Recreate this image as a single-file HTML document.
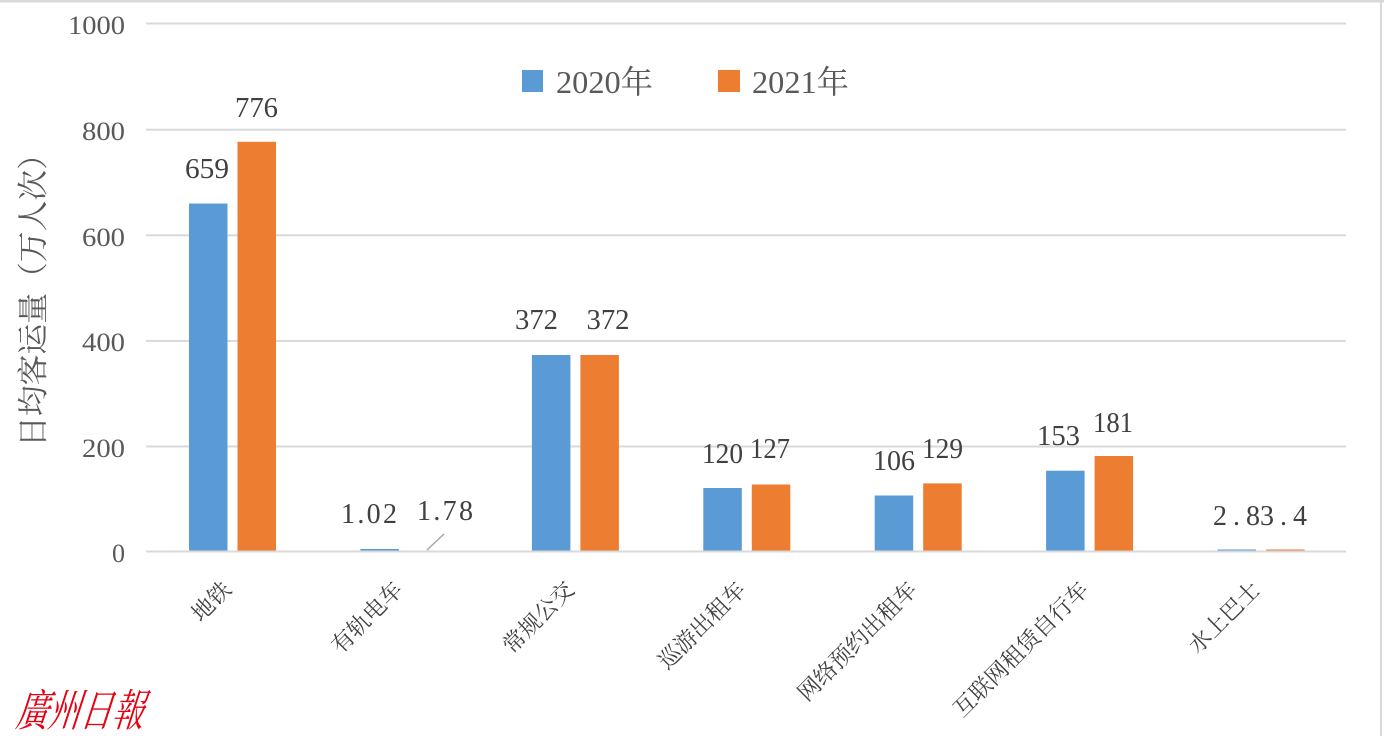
<!DOCTYPE html>
<html><head><meta charset="utf-8">
<style>
html,body{margin:0;padding:0;background:#fff;}
body{width:1384px;height:736px;overflow:hidden;}
svg{display:block;}
.tk{font-family:"Liberation Serif","Noto Serif CJK SC",serif;font-size:26px;fill:#595959;}
.dl{font-family:"Liberation Serif","Noto Serif CJK SC",serif;font-size:28px;fill:#404040;}
.cat{font-family:"Liberation Serif","Noto Serif CJK SC",serif;font-size:22.5px;fill:#404040;}
.lg{font-family:"Liberation Serif","Noto Serif CJK SC",serif;font-size:32px;fill:#595959;}
.yt{font-family:"Liberation Serif","Noto Serif CJK SC",serif;font-size:31px;fill:#595959;}
.logo{font-family:"Noto Serif CJK TC","Noto Serif CJK SC",serif;font-size:44px;fill:#e60012;}
</style></head>
<body>
<svg width="1384" height="736" viewBox="0 0 1384 736" xmlns="http://www.w3.org/2000/svg">
<rect x="0" y="0" width="1384" height="736" fill="#fff"/>
<rect x="0" y="0" width="1384" height="2.5" fill="#d9d9d9"/>
<rect x="1380" y="0" width="2" height="736" fill="#d9d9d9"/>

<g fill="#d9d9d9">
<rect x="146" y="22.5" width="1200" height="2"/>
<rect x="146" y="128.7" width="1200" height="2"/>
<rect x="146" y="234.3" width="1200" height="2"/>
<rect x="146" y="339.9" width="1200" height="2"/>
<rect x="146" y="445.5" width="1200" height="2"/>
</g>

<g class="tk" text-anchor="end">
<text x="125" y="34" textLength="57" lengthAdjust="spacingAndGlyphs">1000</text>
<text x="125" y="140" textLength="43" lengthAdjust="spacingAndGlyphs">800</text>
<text x="125" y="246" textLength="43" lengthAdjust="spacingAndGlyphs">600</text>
<text x="125" y="351" textLength="43" lengthAdjust="spacingAndGlyphs">400</text>
<text x="125" y="457" textLength="43" lengthAdjust="spacingAndGlyphs">200</text>
<text x="125" y="562">0</text>
</g>

<text class="yt" transform="translate(44,293) rotate(-90)" text-anchor="middle" textLength="308" lengthAdjust="spacingAndGlyphs">日均客运量（万人次）</text>

<g fill="#5b9bd5">
<rect x="189" y="203.5" width="38.5" height="348"/>
<rect x="360.4" y="549" width="38.5" height="2.5"/>
<rect x="531.9" y="355" width="38.5" height="196.5"/>
<rect x="703.3" y="488" width="38.5" height="63.5"/>
<rect x="874.7" y="495.5" width="38.5" height="56"/>
<rect x="1046.1" y="470.7" width="38.5" height="80.8"/>
<rect x="1217.6" y="549.5" width="38.5" height="2"/>
</g>
<g fill="#ed7d31">
<rect x="237.5" y="141.8" width="38.5" height="409.7"/>
<rect x="580.4" y="355" width="38.5" height="196.5"/>
<rect x="751.8" y="484.5" width="38.5" height="67"/>
<rect x="923.2" y="483.4" width="38.5" height="68.1"/>
<rect x="1094.6" y="456" width="38.5" height="95.5"/>
<rect x="1266.1" y="549.5" width="38.5" height="2"/>
</g>

<rect x="146" y="550.5" width="1200" height="2" fill="#d9d9d9"/>

<line x1="427" y1="550" x2="444" y2="534" stroke="#a6a6a6" stroke-width="1.5"/>

<g class="dl" text-anchor="middle">
<text x="207" y="178" textLength="44" lengthAdjust="spacingAndGlyphs">659</text>
<text x="256.5" y="117" textLength="43" lengthAdjust="spacingAndGlyphs">776</text>
<text x="369" y="523" textLength="56" lengthAdjust="spacing">1.02</text>
<text x="445" y="520" textLength="56" lengthAdjust="spacing">1.78</text>
<text x="536.5" y="329" textLength="43" lengthAdjust="spacingAndGlyphs">372</text>
<text x="608" y="329" textLength="43" lengthAdjust="spacingAndGlyphs">372</text>
<text x="722.5" y="463" textLength="41" lengthAdjust="spacingAndGlyphs">120</text>
<text x="770" y="458" textLength="40" lengthAdjust="spacingAndGlyphs">127</text>
<text x="894" y="470" textLength="42" lengthAdjust="spacingAndGlyphs">106</text>
<text x="942.5" y="458" textLength="41" lengthAdjust="spacingAndGlyphs">129</text>
<text x="1058.5" y="445" textLength="43" lengthAdjust="spacingAndGlyphs">153</text>
<text x="1113" y="432" textLength="40" lengthAdjust="spacingAndGlyphs">181</text>
<text x="1236.5" y="525" textLength="47" lengthAdjust="spacing">2.8</text>
<text x="1283.5" y="525" textLength="47" lengthAdjust="spacing">3.4</text>
</g>

<g class="cat" text-anchor="end">
<text transform="translate(232.7,591) rotate(-45)">地铁</text>
<text transform="translate(404.1,591) rotate(-45)">有轨电车</text>
<text transform="translate(575.6,591) rotate(-45)">常规公交</text>
<text transform="translate(747,591) rotate(-45)">巡游出租车</text>
<text transform="translate(918.4,591) rotate(-45)">网络预约出租车</text>
<text transform="translate(1089.9,591) rotate(-45)">互联网租赁自行车</text>
<text transform="translate(1261.3,591) rotate(-45)">水上巴士</text>
</g>

<rect x="522" y="70" width="21" height="22" fill="#5b9bd5"/>
<text class="lg" x="556" y="93" textLength="97" lengthAdjust="spacingAndGlyphs">2020年</text>
<rect x="718" y="70" width="22" height="22" fill="#ed7d31"/>
<text class="lg" x="752" y="93" textLength="97" lengthAdjust="spacingAndGlyphs">2021年</text>

<g transform="translate(15,726) skewX(-18)">
<text class="logo" x="0" y="0" textLength="128" lengthAdjust="spacingAndGlyphs">廣州日報</text>
</g>
</svg>
</body></html>
